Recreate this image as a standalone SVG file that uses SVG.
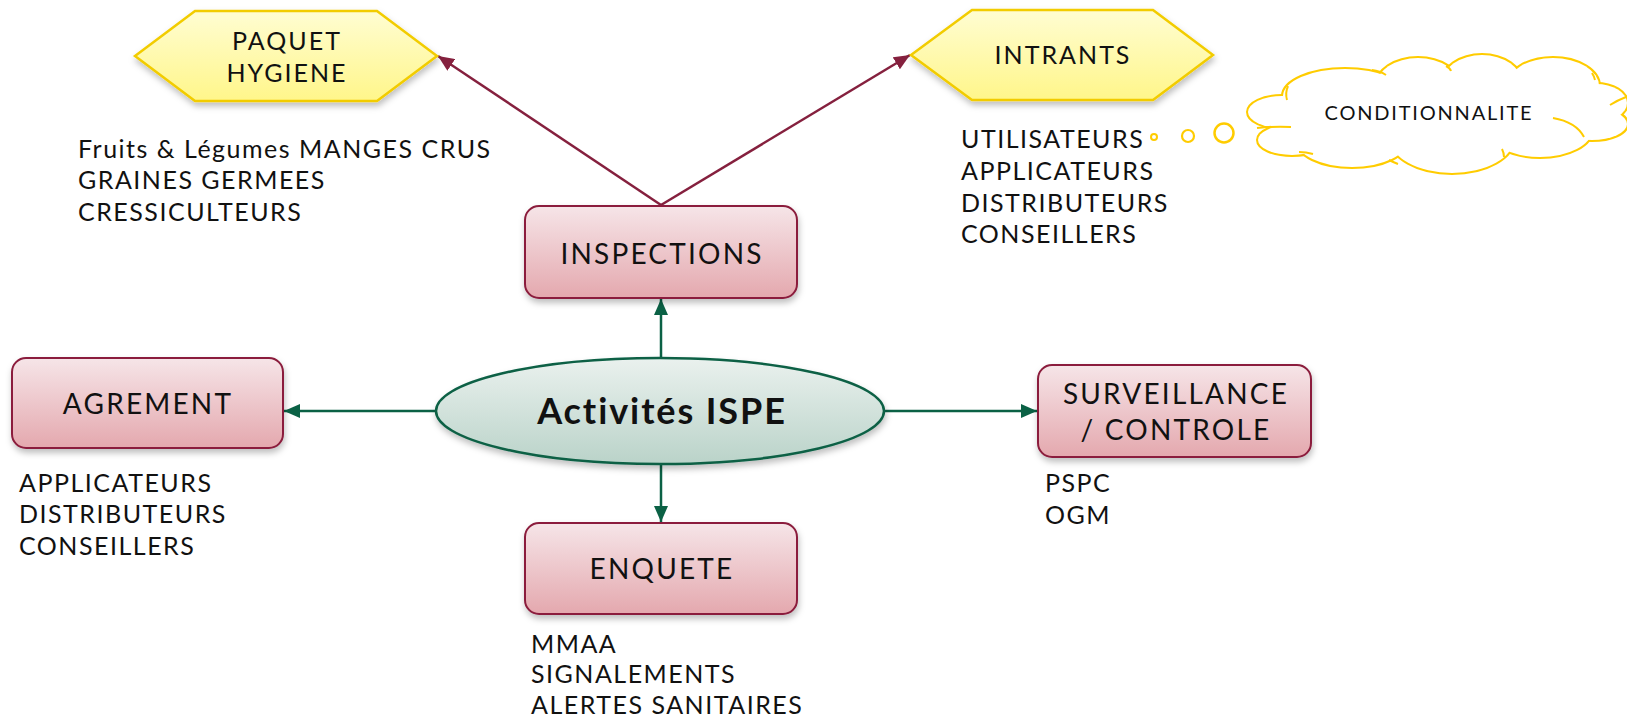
<svg xmlns="http://www.w3.org/2000/svg" width="1627" height="717" viewBox="0 0 1627 717">
<style>
.lbl{font-family:Lato,"Liberation Sans",sans-serif;font-size:28px;fill:#111;text-anchor:middle;letter-spacing:2.2px}
.hl{font-size:25px;letter-spacing:2px}
.sub{font-family:Lato,"Liberation Sans",sans-serif;font-size:25px;fill:#111;letter-spacing:1.5px}
.box{fill:url(#gBox);stroke:#8B1D3C;stroke-width:2;filter:url(#sh)}
.hex{fill:url(#gHex);stroke:#F2CC00;stroke-width:2.5;filter:url(#sh)}
.red{stroke:#85203E;stroke-width:2.5;fill:none;marker-end:url(#aRed)}
.grn{stroke:#0B6145;stroke-width:2.5;fill:none;marker-end:url(#aGrn)}
.cl{stroke:#FFCC00;stroke-width:4;fill:#fff}
.cf{fill:#fff}
.ci{stroke:#FFCC00;stroke-width:2;fill:none}
</style>
<defs>
<linearGradient id="gBox" x1="0" y1="0" x2="0" y2="1"><stop offset="0" stop-color="#F6E5E8"/><stop offset="1" stop-color="#E4A8AE"/></linearGradient>
<linearGradient id="gHex" x1="0" y1="0" x2="0" y2="1"><stop offset="0" stop-color="#FFFDD2"/><stop offset="1" stop-color="#FFF68A"/></linearGradient>
<linearGradient id="gEll" x1="0" y1="0" x2="0" y2="1"><stop offset="0" stop-color="#EAF1EE"/><stop offset="1" stop-color="#BAD3C9"/></linearGradient>
<filter id="sh" x="-10%" y="-20%" width="120%" height="150%"><feDropShadow dx="1" dy="4" stdDeviation="3" flood-color="#000" flood-opacity="0.25"/></filter>
<marker id="aRed" markerUnits="userSpaceOnUse" markerWidth="16" markerHeight="14" refX="16" refY="7" orient="auto"><path d="M0,0 L16,7 L0,14 z" fill="#85203E"/></marker>
<marker id="aGrn" markerUnits="userSpaceOnUse" markerWidth="16" markerHeight="14" refX="16" refY="7" orient="auto"><path d="M0,0 L16,7 L0,14 z" fill="#0B6145"/></marker>
</defs>
<rect width="1627" height="717" fill="#fff"/>

<g id="connectors">
<path class="red" d="M661,205 L438,56"/>
<path class="red" d="M661,205 L910,55"/>
<path class="grn" d="M661,358 L661,299"/>
<path class="grn" d="M437,411 L284,411"/>
<path class="grn" d="M884,411 L1037,411"/>
<path class="grn" d="M661,464 L661,522"/>
</g>

<g id="paquet">
<polygon class="hex" points="135,56 195,11 377,11 437,56 377,101 195,101"/>
<text class="lbl hl" x="287" y="50">PAQUET</text>
<text class="lbl hl" x="287" y="82">HYGIENE</text>
</g>
<g id="paquet-items">
<text class="sub" x="78" y="158">Fruits &amp; Légumes MANGES CRUS</text>
<text class="sub" x="78" y="189">GRAINES GERMEES</text>
<text class="sub" x="78" y="221">CRESSICULTEURS</text>
</g>

<g id="intrants">
<polygon class="hex" points="911,55 972,10 1153,10 1213,55 1153,100 972,100"/>
<text class="lbl hl" x="1063" y="64">INTRANTS</text>
</g>
<g id="intrants-items">
<text class="sub" x="961" y="148">UTILISATEURS</text>
<text class="sub" x="961" y="180">APPLICATEURS</text>
<text class="sub" x="961" y="212">DISTRIBUTEURS</text>
<text class="sub" x="961" y="243">CONSEILLERS</text>
</g>

<g id="conditionnalite">
<circle cx="1154" cy="137" r="3" fill="#fff" stroke="#FFCC00" stroke-width="2"/>
<circle cx="1188" cy="136" r="6" fill="#fff" stroke="#FFCC00" stroke-width="2.2"/>
<circle cx="1224" cy="133" r="9.5" fill="#fff" stroke="#FFCC00" stroke-width="2.5"/>
<g class="cl">
<ellipse cx="1282" cy="112" rx="34" ry="16"/>
<ellipse cx="1292" cy="140" rx="34" ry="15"/>
<ellipse cx="1345" cy="96" rx="62" ry="27"/>
<ellipse cx="1418" cy="86" rx="42" ry="28"/>
<ellipse cx="1482" cy="83" rx="40" ry="28"/>
<ellipse cx="1553" cy="86" rx="46" ry="28"/>
<ellipse cx="1596" cy="103" rx="31" ry="19"/>
<ellipse cx="1592" cy="124" rx="35" ry="16"/>
<ellipse cx="1540" cy="130" rx="52" ry="27"/>
<ellipse cx="1452" cy="138" rx="62" ry="35"/>
<ellipse cx="1352" cy="140" rx="56" ry="27"/>
</g>
<g class="cf">
<ellipse cx="1282" cy="112" rx="34" ry="16"/>
<ellipse cx="1292" cy="140" rx="34" ry="15"/>
<ellipse cx="1345" cy="96" rx="62" ry="27"/>
<ellipse cx="1418" cy="86" rx="42" ry="28"/>
<ellipse cx="1482" cy="83" rx="40" ry="28"/>
<ellipse cx="1553" cy="86" rx="46" ry="28"/>
<ellipse cx="1596" cy="103" rx="31" ry="19"/>
<ellipse cx="1592" cy="124" rx="35" ry="16"/>
<ellipse cx="1540" cy="130" rx="52" ry="27"/>
<ellipse cx="1452" cy="138" rx="62" ry="35"/>
<ellipse cx="1352" cy="140" rx="56" ry="27"/>
<ellipse cx="1440" cy="114" rx="150" ry="36"/>
</g>
<g class="ci">
<path d="M1287,100 Q1285,93 1288,86"/>
<path d="M1372,70 Q1380,71 1386,75"/>
<path d="M1446,66 Q1450,68 1451,71"/>
<path d="M1592,73 Q1594,76 1595,80"/>
<path d="M1610,105 Q1618,100 1626,97"/>
<path d="M1553,118 Q1576,122 1584,137"/>
<path d="M1502,149 Q1504,153 1504,157"/>
<path d="M1389,160 Q1393,162 1398,164"/>
<path d="M1299,152 Q1306,152 1313,154"/>
<path d="M1257,128 Q1275,126 1291,127"/>
</g>
<text x="1429" y="120" style="font-family:Lato,'Liberation Sans',sans-serif;font-size:20px;fill:#111;text-anchor:middle;letter-spacing:1.8px">CONDITIONNALITE</text>
</g>

<g id="inspections">
<rect class="box" x="525" y="206" width="272" height="92" rx="14"/>
<text class="lbl" x="662" y="264">INSPECTIONS</text>
</g>

<g id="activites">
<ellipse cx="660" cy="411" rx="224" ry="53" fill="url(#gEll)" stroke="#0B6145" stroke-width="2.5" filter="url(#sh)"/>
<text x="662" y="424" style="font-family:Lato,'Liberation Sans',sans-serif;font-size:36px;font-weight:bold;fill:#111;text-anchor:middle;letter-spacing:1.9px">Activités ISPE</text>
</g>

<g id="agrement">
<rect class="box" x="12" y="358" width="271" height="90" rx="14"/>
<text class="lbl" x="148" y="414">AGREMENT</text>
</g>
<g id="agrement-items">
<text class="sub" x="19" y="492">APPLICATEURS</text>
<text class="sub" x="19" y="523">DISTRIBUTEURS</text>
<text class="sub" x="19" y="555">CONSEILLERS</text>
</g>

<g id="surveillance">
<rect class="box" x="1038" y="365" width="273" height="92" rx="14"/>
<text class="lbl" x="1176" y="404">SURVEILLANCE</text>
<text class="lbl" x="1176" y="440">/ CONTROLE</text>
</g>
<g id="surveillance-items">
<text class="sub" x="1045" y="492">PSPC</text>
<text class="sub" x="1045" y="524">OGM</text>
</g>

<g id="enquete">
<rect class="box" x="525" y="523" width="272" height="91" rx="14"/>
<text class="lbl" x="662" y="579">ENQUETE</text>
</g>
<g id="enquete-items">
<text class="sub" x="531" y="653">MMAA</text>
<text class="sub" x="531" y="683">SIGNALEMENTS</text>
<text class="sub" x="531" y="714">ALERTES SANITAIRES</text>
</g>
</svg>
